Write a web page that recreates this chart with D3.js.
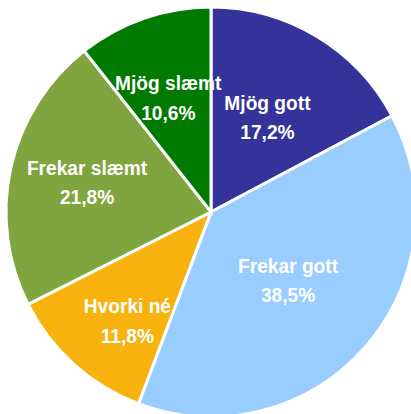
<!DOCTYPE html>
<html><head><meta charset="utf-8">
<script src="https://cdn.jsdelivr.net/npm/d3@7"></script>
<style>html,body{margin:0;padding:0;background:#fff;}svg{display:block;}</style>
</head><body>
<svg id="chart" width="411" height="414"></svg>
<script>
const categories = ["Mjög gott", "Frekar gott", "Hvorki né", "Frekar slæmt", "Mjög slæmt"];
const values = [17.2, 38.5, 11.8, 21.8, 10.6];
const valueLabels = ["17,2%", "38,5%", "11,8%", "21,8%", "10,6%"];
const colors = ["#333399", "#99CCFF", "#F7B20E", "#80A43E", "#007A00"];
// label placement (layout only): radius fraction and angular nudge in degrees
const labelRadiusFrac = [0.527, 0.511, 0.678, 0.619, 0.584];
const labelAngleNudge = [0.5, 1.3, -5, -0.2, -1.8];

const cx = 211, cy = 212, R = 205;
const svg = d3.select("#chart");
const g = svg.append("g").attr("transform", `translate(${cx},${cy})`);

const pie = d3.pie().sort(null).value(d => d.v);
const data = categories.map((c, i) => ({c, v: values[i], i}));
const arcs = pie(data);
const arc = d3.arc().innerRadius(0).outerRadius(R);

const defs = svg.append("defs");
arcs.forEach((a, i) => {
  defs.append("clipPath").attr("id", "clip" + i)
    .append("path").attr("d", arc(a));
});

g.selectAll("path.slice").data(arcs).join("path")
  .attr("class", "slice")
  .attr("d", arc)
  .attr("fill", d => colors[d.data.i])
  .attr("stroke", "#fff")
  .attr("stroke-width", 3)
  .attr("stroke-linejoin", "miter");

arcs.forEach((a, i) => {
  const mid = (a.startAngle + a.endAngle) / 2 + labelAngleNudge[i] * Math.PI / 180;
  const r = R * labelRadiusFrac[i];
  const x = Math.sin(mid) * r, y = -Math.cos(mid) * r;
  const lg = g.append("g");
  if (i === 2) lg.attr("clip-path", `url(#clip${i})`);
  const t = lg.append("text")
    .attr("transform", `translate(${x},${y}) scale(0.935,1)`)
    .attr("text-anchor", "middle")
    .attr("font-family", "Liberation Sans, Arial, sans-serif")
    .attr("font-weight", "bold")
    .attr("font-size", 20.5)
    .attr("fill", "#fff");
  t.append("tspan").attr("x", 0).attr("y", -10).text(categories[i]);
  t.append("tspan").attr("x", 0).attr("y", 19.5).text(valueLabels[i]);
});
</script>
</body></html>
